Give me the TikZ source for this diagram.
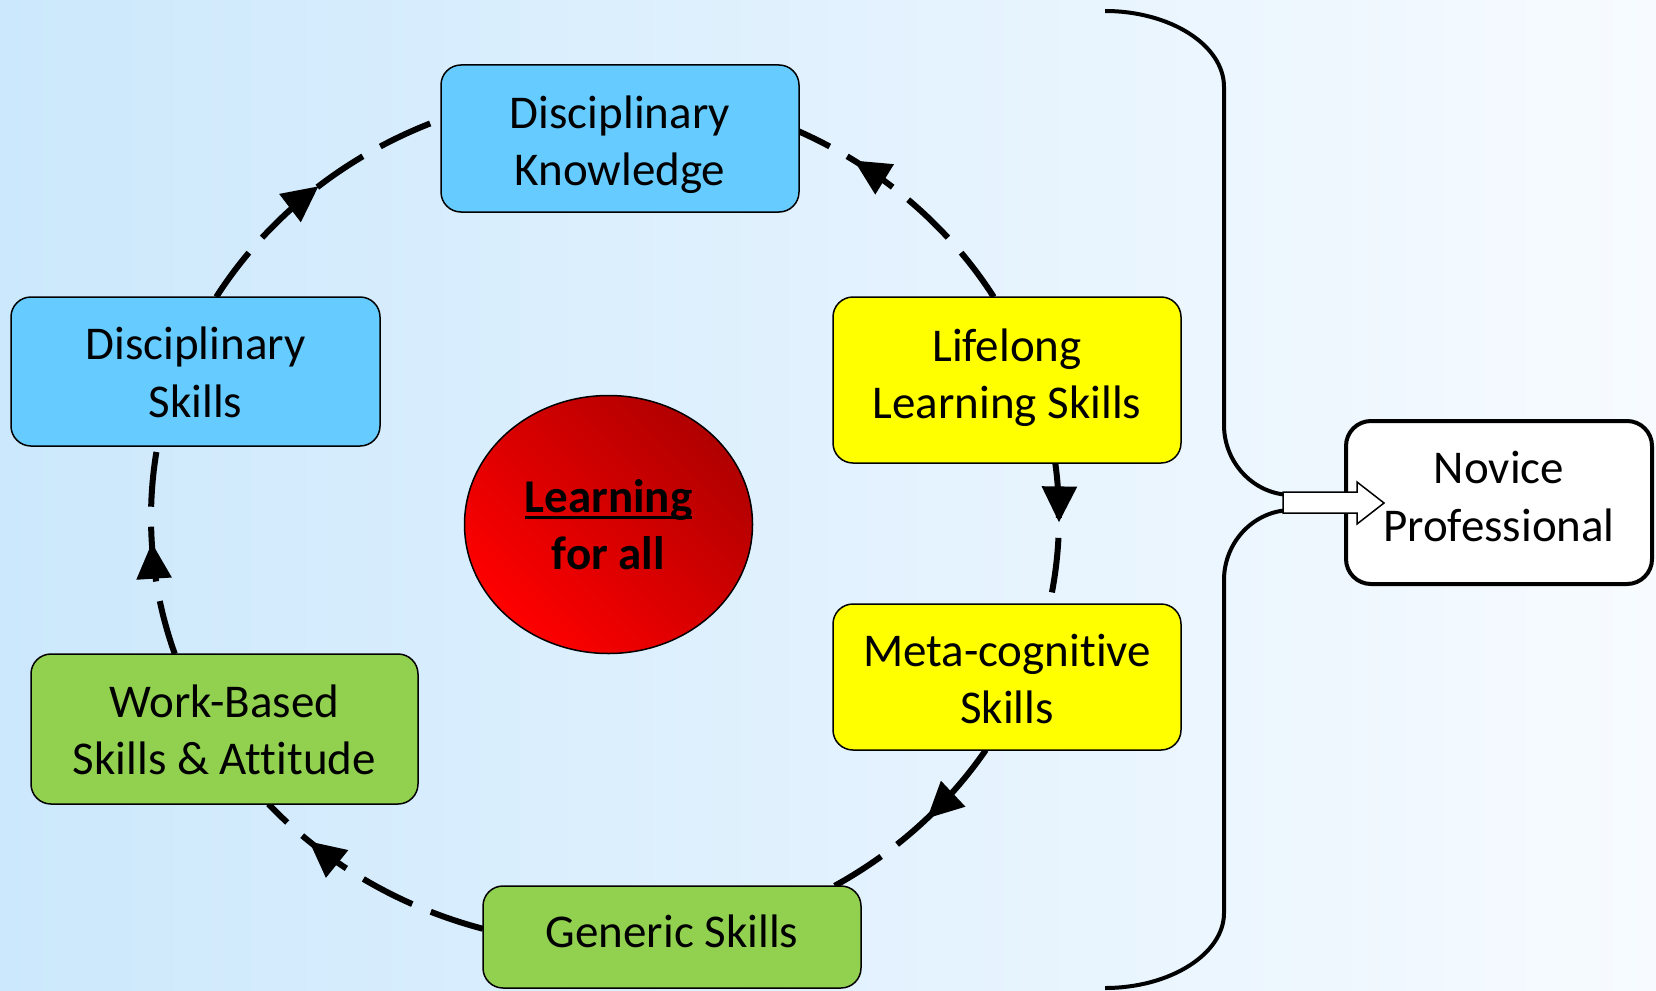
\documentclass[tikz,border=0pt]{standalone}
\usepackage{fontspec}
\setmainfont{Carlito}[Ligatures={NoCommon}]
\usetikzlibrary{arrows.meta,decorations.markings,shapes.geometric,calc}

\definecolor{bgL}{RGB}{204,232,252}
\definecolor{bgR}{RGB}{247,251,255}
\definecolor{dblue}{RGB}{102,204,255}
\definecolor{dyellow}{RGB}{255,255,0}
\definecolor{dgreen}{RGB}{146,208,80}
\definecolor{redlight}{RGB}{255,0,0}
\definecolor{reddark}{RGB}{176,0,0}

\newcommand\ulbold[1]{\setbox0\hbox{#1}\rlap{\rule[-6.5pt]{\wd0}{2.5pt}}\box0}

\begin{document}
\begin{tikzpicture}[x=1pt,y=-1pt,
  txt/.style={font=\fontsize{47}{57.5}\selectfont, align=center, inner sep=0pt},
  box/.style={draw=black, line width=1.5pt, rounded corners=20pt},
  flow/.style={line width=6pt, dash pattern=on 55pt off 20pt},
  midarrow/.style={postaction={decorate}, decoration={markings,
     mark=at position #1 with {\arrow{Triangle[length=36pt,width=34pt]}}}},
  brace/.style={line width=4pt},
]
\useasboundingbox (0,0) rectangle (1656,990);
\shade[left color=bgL, right color=bgR] (0,0) rectangle (1656,990);

\coordinate (c) at (605,517.5);

% circular flow (dashed elliptical arcs)
\draw[flow, midarrow=0.76] ($(c)+(31.1:454pt and 427pt)$) coordinate (lls-n)
   arc[start angle=31.1, end angle=64.7, x radius=454pt, y radius=427pt] coordinate (dk-e);
\draw[flow, midarrow=0.42] ($(c)+(7.33:454pt and 427pt)$) coordinate (lls-s)
   arc[start angle=7.33, end angle=-11.69, x radius=454pt, y radius=427pt] coordinate (mcs-n);
\draw[flow, midarrow=0.44] ($(c)+(-32.99:454pt and 427pt)$) coordinate (mcs-s)
   arc[start angle=-32.99, end angle=-59.66, x radius=454pt, y radius=427pt] coordinate (gs-n);
\draw[flow, midarrow=0.78] ($(c)+(-105.59:454pt and 427pt)$) coordinate (gs-w)
   arc[start angle=-105.59, end angle=-137.86, x radius=454pt, y radius=427pt] coordinate (wbs-s);
\draw[flow, midarrow=0.54] ($(c)+(198.64:454pt and 427pt)$) coordinate (wbs-n)
   arc[start angle=198.64, end angle=170.36, x radius=454pt, y radius=427pt] coordinate (ds-s);
\draw[flow, midarrow=0.52] ($(c)+(148.9:454pt and 427pt)$) coordinate (ds-n)
   arc[start angle=148.9, end angle=111.2, x radius=454pt, y radius=427pt] coordinate (dk-w);

% boxes
\node[box, fill=dblue, minimum width=358, minimum height=147,
      label={[txt, yshift=-6pt]center:Disciplinary\\Knowledge}] (dk) at (620,138.5) {};
\node[box, fill=dblue, minimum width=369, minimum height=149,
      label={[txt, yshift=-1pt]center:Disciplinary\\Skills}] (ds) at (195.5,371.5) {};
\node[box, fill=dyellow, minimum width=348, minimum height=166,
      label={[txt, yshift=2.5pt]center:Lifelong\\Learning Skills}] (lls) at (1007,380) {};
\node[box, fill=dyellow, minimum width=348, minimum height=146,
      label={[txt, yshift=-2pt]center:Meta-cognitive\\Skills}] (mcs) at (1007,677) {};
\node[box, fill=dgreen, minimum width=387, minimum height=150,
      label={[txt, yshift=-1pt]center:Work-Based\\Skills \& Attitude}] (wbs) at (224.5,729) {};
\node[box, fill=dgreen, minimum width=378, minimum height=102,
      label={[txt, yshift=5.5pt]center:Generic Skills}] (gs) at (672,937) {};

% centre ellipse
\node[ellipse, draw=black, line width=1.5pt, bottom color=redlight, top color=reddark,
      shading angle=-45, minimum width=288, minimum height=258,
      label={[txt]center:\ulbold{\bfseries Learning}\\\bfseries for all}] (lfa) at (608.5,524.5) {};

% brace
\draw[brace] (1105,11) .. controls (1170,11) and (1224,45) .. (1224,87)
  -- (1224,425) .. controls (1224,463) and (1254,495) .. (1292,495)
  -- (1292,510) .. controls (1254,510) and (1224,542) .. (1224,580)
  -- (1224,913) .. controls (1224,954) and (1170,988) .. (1105,988);

% novice professional
\node[draw=black, line width=4pt, rounded corners=25pt, fill=white,
      minimum width=306, minimum height=163,
      label={[txt, yshift=6pt]center:Novice\\Professional}] (nov) at (1499,502.5) {};

% hollow block arrow
\draw[fill=white, line width=1.5pt] (1283,492) -- (1357,492) -- (1357,482) -- (1384,503)
  -- (1357,524) -- (1357,513) -- (1283,513) -- cycle;
\end{tikzpicture}
\end{document}
